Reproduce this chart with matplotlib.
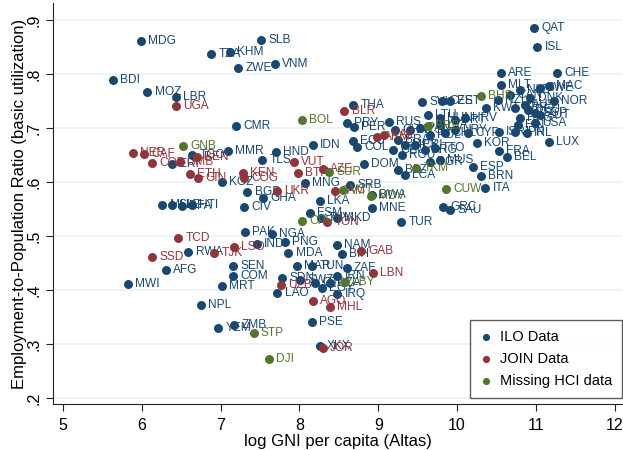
import matplotlib
matplotlib.use("Agg")
import matplotlib.pyplot as plt

plt.rcParams["font.family"] = ["Liberation Sans", "DejaVu Sans"]

# Countries with ILO employment data
ilo_iso = ["MDG", "BDI", "MOZ", "LBR", "TZA", "KHM", "ZWE", "SLB", "VNM", "CMR",
           "MMR", "HND", "TLS", "IDN", "KGZ", "BGD", "GHA", "CIV", "MLI", "SLE",
           "BFA", "HTI", "PAK", "NGA", "IND", "PNG", "MDA", "NAM", "BIH", "RWA",
           "AFG", "MWI", "SEN", "COM", "MRT", "NPL", "YEM", "ZMB", "MAR", "TUN",
           "ZAF", "SDN", "LAO", "IRQ", "PSE", "XKX", "SWZ", "GTM", "EGY", "DZA",
           "IRN", "ECU", "COL", "THA", "PRY", "PER", "RUS", "DOM", "SRB", "MNG",
           "BWA", "LKA", "FSM", "MNE", "TUV", "MKD", "TUR", "GEO", "ROU", "SVK",
           "CZE", "EST", "LTU", "HUN", "PRT", "HRV", "KWT", "ARE", "CHE", "MAC",
           "MLT", "ISL", "QAT", "NOR", "DNK", "NLD", "SWE", "CAN", "AUS", "GBR",
           "DEU", "NZL", "SGP", "HKG", "USA", "AUT", "FIN", "JPN", "IRL", "ISR",
           "CYP", "KOR", "LUX", "FRA", "BEL", "ESP", "BRN", "ITA", "GRC", "SAU",
           "TTO", "LVA", "CHL", "URY", "POL", "PAN", "MYS", "CRI", "ARG", "MEX",
           "BRA", "CHN", "BGR", "MUS", "BLZ", "LCA", "ERI", "TGO"]
ilo_gni = [5.99, 5.63, 6.07, 6.43, 6.88, 7.12, 7.22, 7.51, 7.69, 7.20,
           7.09, 7.70, 7.53, 8.17, 7.02, 7.34, 7.54, 7.30, 6.26, 6.38,
           6.51, 6.64, 7.31, 7.65, 7.46, 7.82, 7.86, 8.48, 8.54, 6.59,
           6.31, 5.82, 7.16, 7.16, 7.02, 6.75, 6.97, 7.17, 7.97, 8.16,
           8.60, 7.78, 7.72, 8.48, 8.16, 8.26, 8.01, 8.20, 8.29, 8.39,
           8.48, 8.68, 8.73, 8.68, 8.60, 8.69, 9.14, 8.82, 8.64, 8.07,
           8.92, 8.26, 8.13, 8.92, 8.27, 8.48, 9.29, 9.19, 9.30, 9.56,
           9.81, 9.91, 9.63, 9.78, 9.97, 10.10, 10.37, 10.56, 11.27, 11.17,
           10.56, 11.02, 10.98, 11.23, 10.93, 10.80, 11.05, 10.67, 10.86, 10.74,
           10.90, 10.52, 10.99, 10.80, 10.99, 11.05, 10.77, 10.74, 10.89, 10.53,
           10.14, 10.25, 11.17, 10.53, 10.63, 10.20, 10.30, 10.36, 9.82, 9.91,
           9.72, 9.78, 9.85, 9.97, 9.66, 9.53, 9.40, 9.47, 9.59, 9.34,
           9.25, 9.21, 9.66, 9.78, 9.25, 9.34, 6.38, 6.64]
ilo_epr = [0.861, 0.789, 0.767, 0.757, 0.837, 0.841, 0.811, 0.863, 0.819, 0.704,
           0.657, 0.656, 0.641, 0.669, 0.600, 0.581, 0.570, 0.554, 0.557, 0.557,
           0.556, 0.557, 0.507, 0.504, 0.485, 0.489, 0.469, 0.483, 0.467, 0.470,
           0.437, 0.411, 0.444, 0.426, 0.407, 0.372, 0.330, 0.335, 0.444, 0.444,
           0.441, 0.422, 0.394, 0.393, 0.341, 0.296, 0.419, 0.413, 0.404, 0.413,
           0.426, 0.676, 0.665, 0.743, 0.709, 0.702, 0.711, 0.633, 0.594, 0.598,
           0.576, 0.565, 0.543, 0.552, 0.533, 0.533, 0.526, 0.659, 0.650, 0.748,
           0.750, 0.750, 0.724, 0.719, 0.715, 0.719, 0.737, 0.802, 0.802, 0.778,
           0.780, 0.850, 0.885, 0.750, 0.756, 0.770, 0.774, 0.761, 0.743, 0.737,
           0.733, 0.752, 0.728, 0.719, 0.709, 0.724, 0.706, 0.693, 0.691, 0.693,
           0.691, 0.672, 0.674, 0.657, 0.646, 0.628, 0.611, 0.589, 0.554, 0.548,
           0.663, 0.706, 0.691, 0.696, 0.687, 0.700, 0.696, 0.669, 0.659, 0.669,
           0.678, 0.696, 0.637, 0.641, 0.622, 0.613, 0.633, 0.650]

# Countries with JOIN survey data
join_iso = ["UGA", "BLR", "NER", "CAF", "COD", "GMB", "BEN", "ETH", "GIN", "KEN",
            "COG", "VUT", "BTN", "AZE", "UKR", "JAM", "TON", "ARM", "KAZ", "TCD",
            "SSD", "TJK", "LSO", "GAB", "LBN", "UZB", "AGO", "MHL", "JOR"]
join_gni = [6.43, 8.57, 5.89, 6.03, 6.13, 6.48, 6.70, 6.61, 6.71, 7.28,
            7.30, 7.93, 7.98, 8.30, 7.72, 8.45, 8.35, 8.98, 9.07, 6.46,
            6.13, 6.92, 7.17, 8.78, 8.93, 7.77, 8.17, 8.39, 8.30]
join_epr = [0.741, 0.731, 0.654, 0.652, 0.635, 0.637, 0.646, 0.615, 0.607, 0.617,
            0.607, 0.637, 0.617, 0.624, 0.583, 0.583, 0.526, 0.683, 0.687, 0.496,
            0.461, 0.469, 0.480, 0.472, 0.431, 0.409, 0.380, 0.369, 0.293]

# Countries without a Human Capital Index value
hci_iso = ["GNB", "BOL", "BHS", "BRB", "SUR", "VCT", "MDV", "TKM", "CUW", "CPV",
           "LBY", "STP", "DJI"]
hci_gni = [6.52, 8.03, 10.30, 9.63, 8.38, 8.55, 8.91, 9.48, 9.86, 8.03,
           8.58, 7.42, 7.61]
hci_epr = [0.667, 0.715, 0.759, 0.704, 0.619, 0.585, 0.574, 0.626, 0.587, 0.528,
           0.415, 0.320, 0.272]

groups = [
    ("ILO Data", ilo_iso, ilo_gni, ilo_epr, "#1a476f"),
    ("JOIN Data", join_iso, join_gni, join_epr, "#90353b"),
    ("Missing HCI data", hci_iso, hci_gni, hci_epr, "#55752f"),
]

fig = plt.figure(figsize=(6.23, 4.5), dpi=100)
ax = fig.add_axes([53 / 623, 46 / 450, (622 - 53) / 623, (404 - 3) / 450])

for z, (name, iso, gx, gy, col) in enumerate(groups):
    ax.scatter(gx, gy, s=42, color=col, linewidths=0, label=name, zorder=3 + z)
    for code, xv, yv in zip(iso, gx, gy):
        ax.annotate(code, (xv, yv), xytext=(5.2, 0), textcoords="offset points",
                    va="center", ha="left", fontsize=8.6, color=col,
                    zorder=3 + z, annotation_clip=False)

ax.set_xlim(4.873, 12.094)
ax.set_ylim(0.1889, 0.9315)

ax.set_xticks(range(5, 13))
yt = [0.2, 0.3, 0.4, 0.5, 0.6, 0.7, 0.8, 0.9]
ax.set_yticks(yt)
ax.set_yticklabels([".2", ".3", ".4", ".5", ".6", ".7", ".8", ".9"],
                   rotation=90, va="center")
ax.tick_params(length=5, width=0.8, color="#222222", labelsize=11.5,
               labelcolor="black")
ax.tick_params(axis="x", pad=5)
ax.tick_params(axis="y", pad=3)

for side in ("top", "right"):
    ax.spines[side].set_visible(False)
for side in ("left", "bottom"):
    ax.spines[side].set_color("#222222")
    ax.spines[side].set_linewidth(0.8)

ax.yaxis.grid(True, color="#eaf2f3", linewidth=1.2)
ax.set_axisbelow(True)

ax.set_xlabel("log GNI per capita (Altas)", fontsize=12, labelpad=0.5)
ax.set_ylabel("Employment-to-Population Ratio (basic utilization)", fontsize=12)
ax.yaxis.set_label_coords(-0.046, 0.5)

leg = ax.legend(loc="lower right", bbox_to_anchor=(622 / 623, 52 / 450),
                bbox_transform=fig.transFigure, fontsize=10.5, frameon=True,
                fancybox=False, edgecolor="#333333", handletextpad=0.5,
                markerscale=0.8, borderpad=0.7, labelspacing=0.55,
                handlelength=0.8, borderaxespad=0.0)
leg.get_frame().set_linewidth(1.0)
leg.set_zorder(10)

fig.savefig("out.png", dpi=100)
